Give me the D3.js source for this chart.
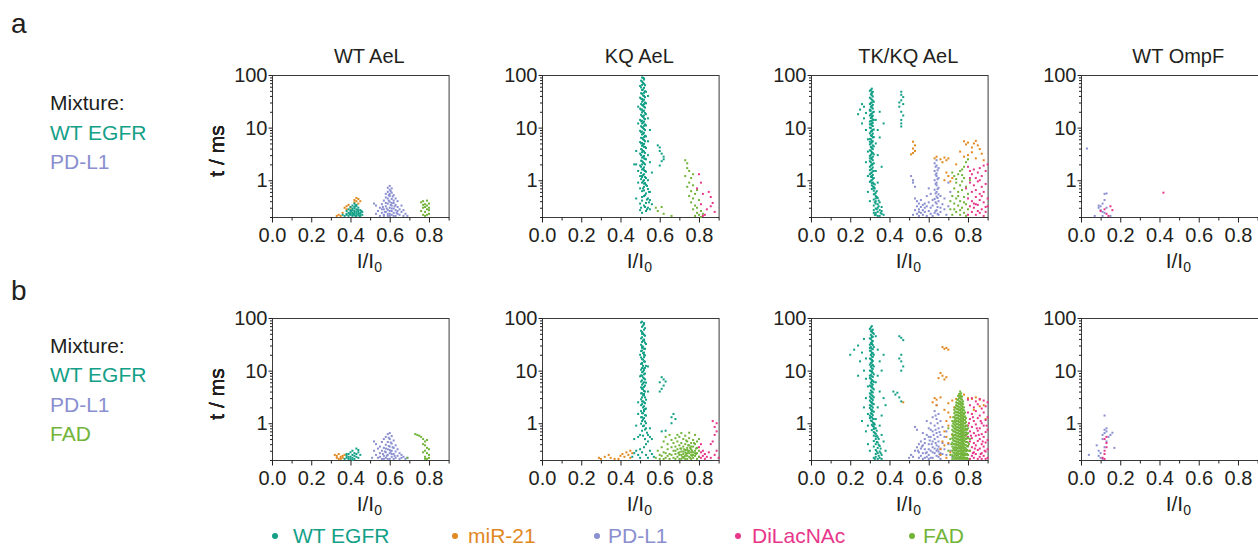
<!DOCTYPE html>
<html>
<head>
<meta charset="utf-8">
<script src="https://cdn.jsdelivr.net/npm/d3@7"></script>
<style>
  body { margin: 0; background: #fff; }
  text { font-family: "Liberation Sans", Arial, sans-serif; fill: #231f20; }
</style>
</head>
<body>
<svg id="fig" width="1258" height="546"></svg>
<script>
// Analytes and their colours
const analytes = ['WT EGFR', 'miR-21', 'PD-L1', 'DiLacNAc', 'FAD'];
const colors = ['#13a087', '#e1891f', '#8a8fd0', '#e8368b', '#72b43a'];

const titles = ['WT AeL', 'KQ AeL', 'TK/KQ AeL', 'WT OmpF'];
const xTicks = [0, 0.2, 0.4, 0.6, 0.8];
const xMinor = [0.1, 0.3, 0.5, 0.7, 0.9];
const yTicks = [1, 10, 100];
const yMinor = [0.2, 0.3, 0.4, 0.5, 0.6, 0.7, 0.8, 0.9, 2, 3, 4, 5, 6, 7, 8, 9, 20, 30, 40, 50, 60, 70, 80, 90];

const mixtureA = ['WT EGFR', 'PD-L1'];
const mixtureB = ['WT EGFR', 'PD-L1', 'FAD'];

// dense clusters written column by column: [I/I0, [t values]]
const cols = c => c.flatMap(([x, ts]) => ts.map(t => [x, t]));

// ---------- row a ----------
const a1Egfr = [[0.37,0.21],[0.38,0.23],[0.38,0.26],[0.39,0.21],[0.39,0.28],[0.40,0.22],[0.40,0.25],[0.40,0.31],[0.41,0.21],[0.41,0.24],[0.41,0.27],[0.41,0.33],[0.42,0.22],[0.42,0.26],[0.42,0.29],[0.42,0.36],[0.43,0.21],[0.43,0.23],[0.43,0.28],[0.43,0.32],[0.44,0.22],[0.44,0.25],[0.44,0.30],[0.45,0.21],[0.45,0.24],[0.45,0.27],[0.46,0.22],[0.46,0.25],[0.39,0.24],[0.40,0.27],[0.41,0.29],[0.42,0.24],[0.43,0.25],[0.44,0.27],[0.38,0.22],[0.42,0.31],[0.43,0.34],[0.40,0.23],[0.41,0.22],[0.44,0.23],[0.45,0.23],[0.36,0.22],[0.395,0.23],[0.405,0.26],[0.415,0.23],[0.425,0.21],[0.435,0.27],[0.445,0.21],[0.455,0.26],[0.425,0.33]];
const a1Mir = [[0.33,0.21],[0.34,0.22],[0.35,0.21],[0.36,0.24],[0.37,0.30],[0.38,0.32],[0.39,0.34],[0.40,0.30],[0.42,0.42],[0.43,0.46],[0.43,0.40],[0.44,0.44],[0.44,0.36],[0.42,0.38],[0.45,0.40],[0.38,0.28]];
const a1Pdl1 = [[0.52,0.36],[0.53,0.33],[0.53,0.23],[0.54,0.26],[0.55,0.21],[0.55,0.30],[0.56,0.24],[0.56,0.35],[0.57,0.22],[0.57,0.28],[0.57,0.41],[0.58,0.25],[0.58,0.32],[0.58,0.47],[0.58,0.55],[0.59,0.21],[0.59,0.27],[0.59,0.36],[0.59,0.60],[0.59,0.72],[0.60,0.23],[0.60,0.30],[0.60,0.39],[0.60,0.50],[0.60,0.66],[0.60,0.78],[0.61,0.22],[0.61,0.26],[0.61,0.33],[0.61,0.44],[0.61,0.58],[0.61,0.70],[0.62,0.24],[0.62,0.29],[0.62,0.37],[0.62,0.52],[0.63,0.21],[0.63,0.27],[0.63,0.34],[0.63,0.45],[0.64,0.23],[0.64,0.31],[0.64,0.40],[0.65,0.22],[0.65,0.28],[0.66,0.25],[0.66,0.33],[0.67,0.21],[0.67,0.27],[0.68,0.23],[0.69,0.21],[0.57,0.21],[0.59,0.23],[0.60,0.26],[0.61,0.29],[0.62,0.21],[0.59,0.45],[0.60,0.55],[0.58,0.37],[0.62,0.41],[0.56,0.28],[0.64,0.26],[0.60,0.21],[0.61,0.37],[0.585,0.29],[0.595,0.41],[0.605,0.34],[0.615,0.49],[0.625,0.32],[0.575,0.25],[0.605,0.62],[0.595,0.52],[0.635,0.24],[0.565,0.31]];
const a1Fad = [[0.76,0.38],[0.77,0.40],[0.77,0.30],[0.78,0.35],[0.78,0.25],[0.78,0.21],[0.79,0.28],[0.79,0.33],[0.79,0.41],[0.80,0.23],[0.80,0.30],[0.80,0.36],[0.77,0.22],[0.76,0.26],[0.78,0.31],[0.79,0.22],[0.80,0.27],[0.77,0.34]];

const a2Egfr = [[0.51,90],[0.52,82],[0.51,75],[0.52,68],[0.50,62],[0.52,57],[0.51,52],[0.53,48],[0.51,44],[0.52,40],[0.50,37],[0.52,34],[0.51,31],[0.53,29],[0.51,27],[0.52,25],[0.50,23],[0.52,21],[0.51,19.5],[0.53,18],[0.51,16.5],[0.52,15],[0.50,14],[0.52,13],[0.51,12],[0.53,11],[0.51,10.2],[0.52,9.4],[0.50,8.7],[0.52,8],[0.51,7.4],[0.53,6.8],[0.51,6.3],[0.52,5.8],[0.50,5.3],[0.52,4.9],[0.51,4.5],[0.53,4.1],[0.51,3.8],[0.52,3.5],[0.50,3.2],[0.52,2.9],[0.51,2.7],[0.53,2.5],[0.51,2.3],[0.52,2.1],[0.50,1.9],[0.52,1.75],[0.51,1.6],[0.53,1.45],[0.52,1.3],[0.51,1.2],[0.53,1.1],[0.52,1.0],[0.51,0.9],[0.53,0.82],[0.52,0.75],[0.54,0.68],[0.51,0.62],[0.53,0.56],[0.52,0.5],[0.54,0.45],[0.51,0.41],[0.53,0.37],[0.52,0.33],[0.54,0.3],[0.50,0.27],
  [0.52,86],[0.51,65],[0.52,46],[0.51,35],[0.52,28],[0.51,22],[0.52,17],[0.51,13.5],[0.52,10.8],[0.51,8.4],[0.52,6.6],[0.51,5.1],[0.52,4.3],[0.51,3.4],[0.52,2.6],[0.51,2.0],[0.52,1.55],[0.51,1.15],[0.52,0.86],[0.52,0.64],[0.51,0.48],
  [0.48,2.0],[0.49,1.5],[0.48,3.6],[0.49,12],[0.54,15],[0.55,9],[0.54,5.5],[0.55,2.2],[0.56,1.4],[0.54,1.0],[0.55,0.6],[0.50,0.7],[0.49,0.9],[0.48,0.45],[0.55,0.42],[0.56,0.35],[0.50,0.36],[0.51,0.24],[0.53,0.26],[0.55,0.28],[0.47,2.0],[0.54,3.0],[0.49,25],[0.54,40],[0.50,1.2],
  [0.59,4.6],[0.60,4.2],[0.60,3.6],[0.61,3.2],[0.62,2.8],[0.62,2.5],[0.61,2.3],[0.60,1.9]];
const a2EgfrCore = [[0.515,88],[0.505,78],[0.515,71],[0.525,64],[0.505,58],[0.515,53],[0.525,49],[0.505,45],[0.515,41],[0.525,38],[0.505,35.5],[0.515,32.5],[0.525,30],[0.505,28],[0.515,26],[0.525,24],[0.505,22],[0.515,20.5],[0.525,19],[0.505,17.5],[0.515,16],[0.525,14.5],[0.505,13.2],[0.515,12.4],[0.525,11.5],[0.505,10.6],[0.515,9.8],[0.525,9],[0.505,8.2],[0.515,7.6],[0.525,7],[0.505,6.4],[0.515,6],[0.525,5.5],[0.505,5],[0.515,4.7],[0.525,4.3],[0.505,3.9],[0.515,3.6],[0.525,3.3],[0.505,3],[0.515,2.8],[0.525,2.55],[0.505,2.35],[0.515,2.2],[0.525,2.0],[0.505,1.8],[0.515,1.65],[0.525,1.5],[0.505,1.38],[0.515,1.25],[0.525,1.15],[0.505,1.05],[0.515,0.95],[0.525,0.88],[0.535,0.78],[0.515,0.7],[0.545,0.6],[0.525,0.52],[0.535,0.43],[0.545,0.38],[0.525,0.31],[0.535,0.28],[0.505,0.3]];
const a2Fad = [[0.58,0.3],[0.59,0.26],[0.61,0.31],[0.62,0.23],[0.66,0.21],[0.73,2.4],[0.74,2.1],[0.74,1.7],[0.75,1.5],[0.73,1.2],[0.75,0.9],[0.76,1.1],[0.74,0.75],[0.76,0.62],[0.77,0.8],[0.75,0.5],[0.77,0.45],[0.78,0.55],[0.76,0.38],[0.78,0.33],[0.77,0.28],[0.79,0.3],[0.79,0.24],[0.80,0.22],[0.81,0.26],[0.78,0.21],[0.80,0.42],[0.82,0.23],[0.79,0.65],[0.77,1.3],[0.81,0.2]];
const a2Dilac = [[0.80,1.3],[0.81,0.9],[0.79,0.7],[0.82,0.55],[0.81,0.35],[0.83,0.22],[0.85,0.6],[0.86,0.48],[0.87,0.37],[0.86,0.32],[0.88,0.25],[0.84,0.28],[0.82,0.21]];

const a3Egfr = [[0.31,55],[0.30,50],[0.31,45],[0.31,41],[0.30,37],[0.31,34],[0.32,31],[0.30,28],[0.31,26],[0.31,24],[0.30,22],[0.32,20],[0.31,18.5],[0.30,17],[0.31,15.5],[0.32,14],[0.30,13],[0.31,12],[0.31,11],[0.30,10],[0.32,9.2],[0.31,8.5],[0.30,7.8],[0.31,7.2],[0.32,6.6],[0.30,6.1],[0.31,5.6],[0.31,5.2],[0.30,4.8],[0.32,4.4],[0.31,4.0],[0.30,3.7],[0.31,3.4],[0.32,3.1],[0.30,2.9],[0.31,2.7],[0.31,2.5],[0.30,2.3],[0.32,2.1],[0.31,1.95],[0.30,1.8],[0.31,1.65],[0.32,1.5],[0.31,1.4],[0.30,1.3],[0.31,1.2],[0.32,1.1],[0.31,1.0],[0.30,0.93],[0.32,0.86],[0.31,0.8],[0.32,0.74],[0.31,0.68],[0.32,0.63],[0.33,0.58],[0.32,0.54],[0.33,0.5],[0.34,0.46],[0.32,0.43],[0.33,0.4],[0.35,0.38],[0.34,0.35],[0.32,0.33],[0.36,0.31],[0.33,0.29],[0.35,0.27],[0.34,0.25],[0.32,0.24],[0.36,0.23],[0.33,0.22],[0.35,0.21],[0.37,0.22],[0.34,0.21],
  [0.31,47],[0.31,30],[0.30,21],[0.31,16.5],[0.31,13.5],[0.30,11.5],[0.31,8.8],[0.31,6.9],[0.30,5.4],[0.31,4.2],[0.31,3.2],[0.30,2.6],[0.31,2.0],[0.30,1.55],[0.31,1.15],[0.31,0.88],[0.32,0.7],[0.33,0.45],[0.33,0.36],[0.34,0.3],[0.32,0.27],[0.33,0.24],[0.36,0.26],
  [0.24,18],[0.25,22],[0.26,28],[0.27,25],[0.27,15],[0.28,19],[0.26,12],[0.28,9],[0.29,6],[0.29,3.5],[0.28,2.2],[0.29,1.2],[0.33,14],[0.34,9],[0.35,20],[0.33,5],[0.34,3],[0.36,1.8],[0.33,1.5],[0.34,0.9],[0.37,12],[0.35,6.5],[0.29,0.6],[0.30,0.4],
  [0.46,48],[0.46,42],[0.47,38],[0.46,33],[0.47,28],[0.45,25],[0.46,20],[0.47,17],[0.46,14],[0.46,12],[0.46,10.5],[0.45,30]];
const a3EgfrCore = [[0.305,52],[0.315,48],[0.305,43],[0.315,39],[0.305,35.5],[0.315,32.5],[0.305,29.5],[0.315,27],[0.305,25],[0.315,23],[0.305,21],[0.315,19.5],[0.305,18],[0.315,16.8],[0.305,15.2],[0.315,14.3],[0.305,13.4],[0.315,12.4],[0.305,11.6],[0.315,10.7],[0.305,9.8],[0.315,9.1],[0.305,8.4],[0.315,7.7],[0.305,7.1],[0.315,6.5],[0.305,6],[0.315,5.5],[0.305,5],[0.315,4.6],[0.305,4.3],[0.315,3.9],[0.305,3.6],[0.315,3.3],[0.305,3.05],[0.315,2.8],[0.305,2.6],[0.315,2.4],[0.305,2.2],[0.315,2.05],[0.305,1.9],[0.315,1.75],[0.305,1.6],[0.315,1.48],[0.305,1.36],[0.315,1.26],[0.305,1.16],[0.315,1.06],[0.305,0.98],[0.315,0.9],[0.325,0.83],[0.315,0.76],[0.325,0.7],[0.335,0.62],[0.325,0.55],[0.335,0.48],[0.345,0.41],[0.325,0.38],[0.345,0.32],[0.335,0.28],[0.355,0.24],[0.325,0.22]];
const a3Mir = [[0.51,3.1],[0.52,3.3],[0.52,4.0],[0.53,4.6],[0.52,5.4],[0.53,3.6],[0.63,2.6],[0.64,2.8],[0.66,2.5],[0.67,2.2],[0.68,2.7],[0.69,2.4],[0.70,2.6],[0.69,1.4],[0.70,1.2],[0.71,0.95],[0.68,1.0],[0.72,1.1],[0.78,5.5],[0.79,4.8],[0.80,5.2],[0.82,4.2],[0.83,5.0],[0.84,5.6],[0.85,4.6],[0.86,3.9],[0.82,3.4],[0.80,3.0],[0.78,2.8],[0.87,3.2],[0.84,2.6],[0.88,2.4],[0.76,3.5],[0.74,2.0]];
const a3Pdl1 = [[0.53,0.45],[0.54,0.40],[0.54,0.32],[0.55,0.36],[0.55,0.28],[0.56,0.42],[0.56,0.31],[0.56,0.24],[0.57,0.34],[0.57,0.27],[0.57,0.22],[0.58,0.30],[0.58,0.25],[0.59,0.21],[0.53,0.27],[0.54,0.23],[0.55,0.21],[0.52,0.22],[0.58,0.36],[0.60,0.26],[0.61,0.23],[0.59,0.32],[0.60,0.38],[0.55,0.25],
  [0.51,1.2],[0.52,1.0],[0.53,0.75],[0.52,0.9],
  [0.64,2.4],[0.63,2.1],[0.64,1.9],[0.65,1.7],[0.63,1.5],[0.64,1.35],[0.64,1.2],[0.65,1.1],[0.63,1.0],[0.64,0.9],[0.64,0.8],[0.65,0.72],[0.63,0.66],[0.64,0.6],[0.65,0.54],[0.64,0.49],[0.63,0.44],[0.65,0.4],[0.64,0.36],[0.62,0.33],[0.66,0.3],[0.64,0.27],[0.63,0.24],[0.65,0.22],[0.62,0.21],[0.66,0.25],[0.61,0.3],[0.62,0.42],[0.66,0.5],[0.61,0.55],[0.67,0.35],[0.68,0.28],[0.69,0.22],[0.70,0.32],[0.71,0.6],[0.70,0.9],[0.68,0.45],[0.60,0.7],[0.59,0.5],
  [0.635,1.8],[0.645,1.55],[0.635,1.28],[0.645,1.05],[0.635,0.85],[0.645,0.68],[0.635,0.56],[0.645,0.46],[0.635,0.38],[0.645,0.31],[0.635,0.26],[0.645,0.23]];
const a3Fad = [[0.72,1.4],[0.73,1.2],[0.74,0.9],[0.75,1.3],[0.76,1.5],[0.77,1.6],[0.78,1.8],[0.79,2.2],[0.80,2.5],[0.78,1.1],[0.76,0.8],[0.73,0.7],[0.75,0.6],[0.77,0.65],[0.79,0.75],[0.72,0.5],[0.74,0.45],[0.76,0.4],[0.78,0.48],[0.80,0.55],[0.73,0.36],[0.75,0.33],[0.77,0.3],[0.79,0.35],[0.71,0.28],[0.74,0.25],[0.76,0.22],[0.78,0.24],[0.72,0.22],[0.80,0.28],[0.81,1.0],[0.74,1.05],[0.77,0.95],[0.75,0.5],[0.71,0.4],[0.78,0.38],[0.73,0.28],[0.79,0.21],[0.76,0.27],[0.77,1.25]];
const a3Dilac = [[0.80,1.8],[0.81,1.5],[0.82,1.3],[0.83,1.6],[0.84,1.1],[0.85,1.4],[0.86,1.7],[0.87,1.2],[0.88,1.9],[0.89,1.5],[0.90,2.0],[0.81,0.9],[0.83,0.8],[0.85,0.95],[0.87,0.75],[0.89,0.85],[0.82,0.6],[0.84,0.65],[0.86,0.55],[0.88,0.6],[0.80,0.45],[0.82,0.4],[0.84,0.48],[0.86,0.42],[0.88,0.38],[0.90,0.45],[0.81,0.32],[0.83,0.3],[0.85,0.34],[0.87,0.28],[0.89,0.31],[0.82,0.25],[0.84,0.22],[0.86,0.24],[0.88,0.21],[0.80,0.22],[0.83,0.36],[0.87,0.5],[0.85,0.26],[0.89,0.25],[0.81,1.1],[0.86,1.0],[0.79,0.7],[0.84,0.35],[0.90,0.32]];

const a4Pdl1 = [[0.03,4.0],[0.09,0.33],[0.09,0.3],[0.10,0.32],[0.10,0.27],[0.11,0.36],[0.11,0.25],[0.12,0.55],[0.13,0.56],[0.12,0.42],[0.12,0.24],[0.13,0.3],[0.07,0.21],[0.11,0.21],[0.15,0.21]];
const a4Dilac = [[0.10,0.26],[0.13,0.23],[0.14,0.21],[0.15,0.32],[0.16,0.27],[0.42,0.58],[0.12,0.28]];

// ---------- row b ----------
const b1Mir = [[0.32,0.25],[0.33,0.24],[0.33,0.22],[0.34,0.26],[0.35,0.23],[0.35,0.21],[0.36,0.24],[0.36,0.22],[0.37,0.25],[0.34,0.21]];
const b1Egfr = [[0.37,0.21],[0.38,0.24],[0.38,0.22],[0.39,0.26],[0.39,0.21],[0.40,0.23],[0.40,0.28],[0.41,0.22],[0.41,0.25],[0.41,0.30],[0.42,0.21],[0.42,0.24],[0.42,0.27],[0.43,0.33],[0.43,0.23],[0.44,0.28],[0.44,0.22],[0.45,0.25],[0.40,0.21],[0.39,0.23],[0.43,0.26],[0.41,0.2],[0.38,0.26],[0.44,0.31]];
const b1Pdl1 = [[0.51,0.22],[0.52,0.30],[0.52,0.45],[0.53,0.25],[0.53,0.40],[0.54,0.22],[0.54,0.33],[0.55,0.27],[0.55,0.36],[0.56,0.21],[0.56,0.30],[0.56,0.44],[0.57,0.24],[0.57,0.34],[0.57,0.50],[0.58,0.22],[0.58,0.28],[0.58,0.39],[0.58,0.55],[0.59,0.25],[0.59,0.32],[0.59,0.44],[0.59,0.62],[0.60,0.21],[0.60,0.27],[0.60,0.36],[0.60,0.50],[0.60,0.65],[0.61,0.23],[0.61,0.30],[0.61,0.41],[0.61,0.57],[0.62,0.26],[0.62,0.34],[0.62,0.47],[0.63,0.22],[0.63,0.29],[0.63,0.38],[0.64,0.24],[0.64,0.32],[0.65,0.21],[0.65,0.27],[0.66,0.25],[0.66,0.22],[0.67,0.23],[0.68,0.21],[0.69,0.22],[0.57,0.21],[0.59,0.21],[0.62,0.21],[0.55,0.23],[0.60,0.31],[0.58,0.33],[0.61,0.26],[0.585,0.24],[0.595,0.37],[0.605,0.29],[0.615,0.35],[0.575,0.29],[0.625,0.24],[0.595,0.53],[0.605,0.43],[0.565,0.26]];
const b1Fad = [[0.73,0.62],[0.74,0.60],[0.75,0.58],[0.76,0.55],[0.77,0.50],[0.78,0.45],[0.79,0.48],[0.78,0.38],[0.79,0.34],[0.78,0.30],[0.79,0.27],[0.80,0.25],[0.78,0.23],[0.79,0.21],[0.77,0.28],[0.80,0.32],[0.77,0.40],[0.78,0.21],[0.80,0.22],[0.69,0.22]];

const b2Egfr = [[0.51,85],[0.52,76],[0.51,68],[0.52,60],[0.51,54],[0.52,48],[0.51,43],[0.52,39],[0.51,35],[0.53,32],[0.51,29],[0.52,26],[0.51,24],[0.52,22],[0.50,20],[0.52,18],[0.51,16.5],[0.52,15],[0.51,13.5],[0.53,12.3],[0.51,11.2],[0.52,10.2],[0.51,9.3],[0.52,8.5],[0.50,7.8],[0.52,7.1],[0.51,6.5],[0.53,5.9],[0.51,5.4],[0.52,4.9],[0.51,4.5],[0.52,4.1],[0.51,3.7],[0.52,3.4],[0.51,3.1],[0.53,2.8],[0.52,2.5],[0.51,2.3],[0.52,2.1],[0.53,1.9],[0.52,1.7],[0.51,1.55],[0.53,1.4],[0.52,1.25],[0.51,1.1],[0.53,1.0],[0.52,0.9],[0.53,0.8],[0.51,0.72],
  [0.52,80],[0.51,50],[0.52,37],[0.51,27],[0.52,20],[0.51,14],[0.52,11],[0.51,8],[0.52,6],[0.51,4.7],[0.52,3.6],[0.51,2.6],[0.52,1.8],[0.51,1.3],
  [0.49,1.5],[0.48,0.9],[0.50,0.6],[0.49,0.55],[0.47,0.5],[0.54,0.6],[0.55,0.55],[0.56,0.5],[0.54,0.45],[0.53,0.4],[0.52,0.35],[0.50,0.32],[0.48,0.3],[0.47,0.27],[0.49,0.25],[0.51,0.28],[0.55,0.3],[0.56,0.26],[0.57,0.23],[0.54,0.22],[0.50,0.22],[0.46,0.23],[0.53,0.25],[0.55,0.8],[0.49,2.5],[0.54,12],[0.54,4],
  [0.61,7.5],[0.62,6.8],[0.60,6],[0.62,5.2],[0.61,4.5],[0.60,4.0],[0.63,6.2],[0.66,1.3],[0.67,1.5],[0.68,1.2],[0.66,1.0],[0.61,0.7],[0.63,0.72]];
const b2EgfrCore = [[0.505,82],[0.515,72],[0.525,64],[0.505,57],[0.515,51],[0.525,46],[0.505,41],[0.515,37.5],[0.525,34],[0.505,31],[0.515,28.5],[0.525,26],[0.505,23.5],[0.515,21.5],[0.525,19.5],[0.505,17.8],[0.515,16.2],[0.525,14.8],[0.505,13.4],[0.515,12.3],[0.525,11.3],[0.505,10.4],[0.515,9.6],[0.525,8.8],[0.505,8.1],[0.515,7.4],[0.525,6.8],[0.505,6.2],[0.515,5.7],[0.525,5.2],[0.505,4.8],[0.515,4.4],[0.525,4],[0.505,3.7],[0.515,3.4],[0.525,3.1],[0.505,2.85],[0.515,2.6],[0.525,2.4],[0.505,2.2],[0.515,2.0],[0.525,1.85],[0.505,1.7],[0.515,1.55],[0.525,1.42],[0.505,1.3],[0.515,1.18],[0.525,1.08],[0.505,0.98],[0.515,0.88],[0.525,0.76],[0.535,0.66],[0.515,0.58],[0.525,0.5]];
const b2Mir = [[0.29,0.22],[0.30,0.21],[0.32,0.23],[0.34,0.25],[0.35,0.22],[0.37,0.21],[0.40,0.24],[0.41,0.26],[0.42,0.23],[0.43,0.28],[0.44,0.25],[0.45,0.3],[0.45,0.22],[0.46,0.27],[0.39,0.21]];
const b2Fad = [[0.58,0.22],[0.59,0.3],[0.60,0.25],[0.61,0.35],[0.62,0.28],[0.62,0.45],[0.63,0.22],[0.63,0.55],[0.64,0.32],[0.64,0.4],[0.65,0.26],[0.65,0.6],[0.66,0.35],[0.66,0.48],[0.67,0.22],[0.67,0.3],[0.67,0.42],[0.68,0.26],[0.68,0.52],[0.68,0.36],[0.69,0.23],[0.69,0.32],[0.69,0.45],[0.69,0.6],[0.70,0.21],[0.70,0.28],[0.70,0.38],[0.70,0.55],[0.71,0.25],[0.71,0.33],[0.71,0.42],[0.71,0.65],[0.72,0.22],[0.72,0.29],[0.72,0.36],[0.72,0.5],[0.73,0.24],[0.73,0.31],[0.73,0.4],[0.73,0.58],[0.74,0.21],[0.74,0.27],[0.74,0.34],[0.74,0.45],[0.75,0.23],[0.75,0.3],[0.75,0.38],[0.75,0.52],[0.75,0.66],[0.76,0.25],[0.76,0.32],[0.76,0.42],[0.77,0.22],[0.77,0.28],[0.77,0.36],[0.77,0.48],[0.78,0.24],[0.78,0.3],[0.78,0.4],[0.78,0.6],[0.79,0.21],[0.79,0.27],[0.79,0.34],[0.79,0.45],[0.80,0.23],[0.80,0.3],[0.80,0.5],[0.76,0.21],[0.73,0.21],[0.71,0.21],[0.68,0.21],[0.65,0.21],[0.62,0.21],[0.74,0.24],[0.76,0.28],[0.72,0.26],[0.70,0.25],[0.78,0.27],[0.75,0.27],[0.77,0.25],[0.73,0.28],[0.66,0.25],[0.64,0.24],[0.60,0.21],[0.61,0.24],[0.68,0.3],[0.71,0.29],[0.74,0.31],[0.76,0.36],[0.63,0.27],
  [0.715,0.23],[0.725,0.32],[0.735,0.26],[0.745,0.38],[0.755,0.22],[0.765,0.3],[0.775,0.42],[0.785,0.26],[0.705,0.33],[0.695,0.27],[0.745,0.29],[0.755,0.34],[0.765,0.24],[0.735,0.47],[0.725,0.23],[0.785,0.33]];
const b2Dilac = [[0.80,0.35],[0.81,0.28],[0.81,0.22],[0.82,0.3],[0.82,0.24],[0.83,0.26],[0.83,0.21],[0.84,0.23],[0.85,0.28],[0.86,0.4],[0.87,0.45],[0.88,0.6],[0.89,0.7],[0.88,0.85],[0.89,1.0],[0.87,1.1],[0.89,0.3],[0.88,0.25],[0.90,0.22],[0.86,0.22],[0.80,0.23],[0.81,0.4]];

const b3Egfr = [[0.31,70],[0.30,62],[0.31,55],[0.32,50],[0.31,45],[0.30,41],[0.31,37],[0.31,34],[0.30,31],[0.32,28],[0.31,26],[0.30,24],[0.31,22],[0.32,20],[0.31,18.5],[0.30,17],[0.31,15.5],[0.31,14.2],[0.30,13],[0.32,12],[0.31,11],[0.30,10],[0.31,9.2],[0.32,8.5],[0.31,7.8],[0.30,7.2],[0.31,6.6],[0.32,6.1],[0.31,5.6],[0.30,5.2],[0.31,4.8],[0.32,4.4],[0.31,4],[0.30,3.7],[0.31,3.4],[0.32,3.1],[0.31,2.9],[0.30,2.7],[0.31,2.5],[0.32,2.3],[0.31,2.1],[0.30,1.95],[0.31,1.8],[0.32,1.65],[0.31,1.5],[0.30,1.4],[0.31,1.3],[0.32,1.2],[0.31,1.1],[0.32,1.0],[0.31,0.93],[0.32,0.86],[0.33,0.8],[0.31,0.74],[0.32,0.68],[0.33,0.63],[0.32,0.58],[0.34,0.54],[0.33,0.5],[0.32,0.46],[0.34,0.43],[0.33,0.4],[0.35,0.37],[0.34,0.34],[0.33,0.31],[0.35,0.29],[0.34,0.27],[0.36,0.25],[0.33,0.23],[0.35,0.22],[0.34,0.21],[0.36,0.21],
  [0.31,58],[0.31,43],[0.31,32],[0.30,27],[0.31,21],[0.31,16],[0.31,12.5],[0.31,9.8],[0.30,8],[0.31,6.3],[0.31,5],[0.31,3.9],[0.30,3.2],[0.31,2.4],[0.30,2.2],[0.31,1.7],[0.30,1.25],[0.32,0.95],[0.32,0.78],[0.33,0.56],[0.32,0.36],[0.33,0.26],
  [0.20,20],[0.22,25],[0.24,30],[0.25,15],[0.26,22],[0.27,40],[0.27,10],[0.28,17],[0.28,7],[0.29,5],[0.28,3],[0.27,2],[0.29,1.5],[0.26,1.1],[0.29,0.9],[0.28,0.7],[0.33,45],[0.34,25],[0.35,15],[0.34,8],[0.36,10],[0.33,6],[0.35,4],[0.37,3],[0.34,2],[0.36,1.4],[0.33,1.2],[0.38,2.2],[0.35,0.9],[0.36,0.6],[0.37,0.45],[0.38,0.3],[0.29,0.4],[0.30,0.3],[0.24,8],[0.37,20],[0.32,0.22],
  [0.45,45],[0.46,42],[0.47,38],[0.46,20],[0.45,17],[0.46,15],[0.47,12],[0.46,10],[0.42,4],[0.43,3.5],[0.45,3.1],[0.44,3.8],[0.46,2.6]];
const b3EgfrCore = [[0.305,66],[0.315,60],[0.305,56],[0.315,52],[0.305,48],[0.315,44],[0.305,40],[0.315,36.5],[0.305,33.5],[0.315,30.5],[0.305,28],[0.315,25.5],[0.305,23.5],[0.315,21.5],[0.305,19.8],[0.315,18.2],[0.305,16.6],[0.315,15.2],[0.305,14],[0.315,12.8],[0.305,11.8],[0.315,10.8],[0.305,9.9],[0.315,9.1],[0.305,8.3],[0.315,7.6],[0.305,7],[0.315,6.4],[0.305,5.9],[0.315,5.4],[0.305,5],[0.315,4.6],[0.305,4.2],[0.315,3.85],[0.305,3.55],[0.315,3.25],[0.305,3],[0.315,2.75],[0.305,2.55],[0.315,2.35],[0.305,2.15],[0.315,1.98],[0.305,1.82],[0.315,1.68],[0.305,1.55],[0.315,1.42],[0.305,1.32],[0.315,1.22],[0.305,1.12],[0.315,1.03],[0.325,0.95],[0.315,0.88],[0.325,0.8],[0.335,0.72],[0.325,0.65],[0.335,0.58],[0.345,0.5],[0.335,0.44],[0.345,0.39],[0.355,0.33],[0.335,0.29],[0.345,0.24],[0.355,0.27],[0.325,0.21]];
const b3Mir = [[0.67,28],[0.68,26],[0.69,27],[0.70,25],[0.66,9],[0.67,8],[0.65,7.2],[0.68,6.8],[0.69,7.5],[0.63,3.0],[0.64,2.8],[0.66,3.1],[0.64,2.2],[0.62,2.5],[0.47,2.5],[0.70,2.4],[0.72,2.7],[0.74,2.9],[0.76,3.2],[0.78,3.5],[0.80,3.0],[0.82,2.9],[0.84,3.1],[0.86,2.8],[0.70,1.6],[0.71,1.3],[0.69,1.1],[0.70,0.9],[0.68,0.7],[0.69,0.55],[0.67,0.45],[0.68,0.38],[0.66,0.32],[0.71,0.28],[0.72,0.6],[0.83,1.8],[0.86,2.1],[0.88,2.2],[0.89,1.2],[0.68,1.8],[0.73,2.0],[0.66,0.25],[0.70,0.42],[0.69,0.22]];
const b3Pdl1 = [[0.50,0.22],[0.51,0.25],[0.52,0.23],[0.53,0.3],[0.54,0.35],[0.55,0.4],[0.55,0.28],[0.56,0.45],[0.56,0.24],[0.57,0.38],[0.57,0.27],[0.58,0.5],[0.58,0.32],[0.58,0.22],[0.59,0.6],[0.59,0.28],[0.60,0.8],[0.60,0.4],[0.60,0.25],[0.61,1.0],[0.61,0.55],[0.61,0.3],[0.62,1.3],[0.62,0.7],[0.62,0.35],[0.62,0.22],[0.63,1.7],[0.63,0.9],[0.63,0.5],[0.63,0.27],[0.64,2.2],[0.64,1.2],[0.64,0.65],[0.64,0.38],[0.64,0.24],[0.65,1.5],[0.65,0.8],[0.65,0.45],[0.65,0.29],[0.66,1.1],[0.66,0.6],[0.66,0.33],[0.66,0.21],[0.67,0.85],[0.67,0.42],[0.67,0.26],[0.68,0.55],[0.68,0.32],[0.69,0.7],[0.69,0.25],[0.70,0.4],[0.71,0.3],[0.72,0.23],[0.53,0.85],[0.54,0.75],[0.57,0.65],[0.59,1.1],[0.61,0.75],[0.55,0.22],[0.57,0.21],[0.60,0.21],[0.62,0.45],[0.63,0.33],[0.65,0.23],[0.58,0.42],[0.56,0.33],[0.60,0.32],[0.61,0.22],[0.59,0.23],[0.64,0.3],[0.66,0.27],[0.62,0.28],[0.60,0.55],[0.65,0.36],
  [0.635,1.4],[0.645,1.0],[0.635,0.75],[0.645,0.55],[0.635,0.42],[0.645,0.32],[0.625,0.6],[0.655,0.68],[0.615,0.4],[0.655,0.26],[0.545,0.3],[0.565,0.36],[0.585,0.27],[0.605,0.47]];
const b3FadCols = [
  [0.72, [0.21,0.25,0.3,0.36,0.43,0.52,0.62,0.75,0.9,1.1]],
  [0.725, [0.23,0.28,0.33,0.4,0.48,0.57,0.7,0.85,1.0,1.3]],
  [0.73, [0.21,0.24,0.27,0.31,0.35,0.4,0.46,0.53,0.6,0.7,0.8,0.95,1.1,1.3,1.55,1.8]],
  [0.735, [0.22,0.26,0.3,0.34,0.39,0.45,0.52,0.6,0.68,0.78,0.9,1.05,1.2,1.4,1.65,2.0]],
  [0.74, [0.21,0.24,0.27,0.31,0.35,0.4,0.45,0.51,0.58,0.66,0.75,0.85,0.97,1.1,1.25,1.45,1.65,1.9,2.2,2.5]],
  [0.745, [0.22,0.25,0.29,0.33,0.38,0.43,0.49,0.56,0.64,0.73,0.83,0.95,1.08,1.23,1.4,1.6,1.85,2.1,2.4,2.8]],
  [0.75, [0.21,0.24,0.27,0.3,0.34,0.39,0.44,0.5,0.57,0.65,0.74,0.84,0.96,1.1,1.25,1.42,1.62,1.85,2.1,2.4,2.8,3.3]],
  [0.755, [0.22,0.26,0.29,0.33,0.37,0.42,0.48,0.55,0.62,0.7,0.8,0.91,1.04,1.18,1.35,1.54,1.75,2.0,2.3,2.6,3.0,3.6]],
  [0.76, [0.21,0.23,0.26,0.3,0.34,0.38,0.43,0.49,0.56,0.63,0.72,0.82,0.93,1.06,1.2,1.37,1.56,1.78,2.0,2.3,2.6,3.0,3.4,4.0]],
  [0.765, [0.22,0.25,0.28,0.32,0.36,0.41,0.47,0.53,0.6,0.68,0.77,0.88,1.0,1.14,1.3,1.48,1.68,1.9,2.2,2.5,2.9,3.3,3.7]],
  [0.77, [0.21,0.24,0.27,0.3,0.34,0.39,0.44,0.5,0.57,0.65,0.74,0.84,0.96,1.1,1.25,1.42,1.62,1.85,2.1,2.4,2.8,3.2]],
  [0.775, [0.22,0.25,0.29,0.33,0.37,0.42,0.48,0.55,0.62,0.7,0.8,0.92,1.05,1.2,1.36,1.55,1.78,2.0,2.3,2.6]],
  [0.78, [0.21,0.24,0.27,0.31,0.35,0.4,0.46,0.52,0.59,0.67,0.76,0.87,1.0,1.15,1.3,1.5,1.75,2.0]],
  [0.785, [0.22,0.26,0.3,0.34,0.39,0.45,0.51,0.58,0.66,0.75,0.86,1.0,1.15,1.35,1.6]],
  [0.79, [0.21,0.25,0.29,0.33,0.38,0.44,0.5,0.58,0.67,0.78,0.9,1.05,1.25]],
  [0.795, [0.22,0.26,0.31,0.37,0.44,0.52,0.62,0.75,0.9]],
  [0.80, [0.21,0.25,0.3,0.36,0.43,0.52,0.65,0.8]]
];
const b3FadExtra = [[0.70,0.3],[0.71,0.5],[0.71,0.25],[0.81,0.3],[0.81,0.5],[0.70,0.8],[0.715,0.4],[0.805,0.4]];
const b3Dilac = [[0.80,2.8],[0.82,3.0],[0.84,2.6],[0.86,2.9],[0.88,2.7],[0.90,2.5],[0.81,2.2],[0.83,2.0],[0.85,2.3],[0.87,1.9],[0.89,2.1],[0.80,1.6],[0.82,1.5],[0.84,1.7],[0.86,1.4],[0.88,1.6],[0.90,1.3],[0.81,1.2],[0.83,1.1],[0.85,1.25],[0.87,1.0],[0.89,1.15],[0.80,0.9],[0.82,0.85],[0.84,0.95],[0.86,0.8],[0.88,0.9],[0.90,0.75],[0.81,0.7],[0.83,0.65],[0.85,0.72],[0.87,0.62],[0.89,0.68],[0.80,0.55],[0.82,0.52],[0.84,0.58],[0.86,0.5],[0.88,0.55],[0.90,0.48],[0.81,0.45],[0.83,0.42],[0.85,0.46],[0.87,0.4],[0.89,0.43],[0.80,0.37],[0.82,0.35],[0.84,0.38],[0.86,0.33],[0.88,0.36],[0.90,0.32],[0.81,0.3],[0.83,0.28],[0.85,0.31],[0.87,0.27],[0.89,0.29],[0.80,0.25],[0.82,0.24],[0.84,0.26],[0.86,0.23],[0.88,0.24],[0.90,0.22],[0.81,0.21],[0.83,0.22],[0.85,0.21],[0.87,0.21],[0.89,0.21],[0.79,0.3],[0.79,0.6],[0.78,0.25],[0.815,0.58],[0.835,0.33],[0.855,0.6],[0.875,0.45],[0.895,0.9],[0.825,1.3],[0.865,1.1],[0.845,0.8],[0.805,1.0],[0.885,0.3],[0.825,0.27],[0.865,0.26]];

const b4Pdl1 = [[0.04,0.25],[0.08,0.38],[0.09,0.3],[0.10,0.27],[0.10,0.22],[0.11,0.6],[0.11,0.5],[0.12,0.75],[0.12,0.65],[0.12,1.4],[0.13,0.8],[0.13,0.7],[0.14,0.55],[0.15,0.6],[0.16,0.66],[0.17,0.34],[0.11,0.21],[0.13,0.45],[0.12,0.35],[0.09,0.24]];
const b4Dilac = [[0.11,0.22],[0.12,0.26],[0.12,0.3],[0.13,0.35],[0.13,0.42],[0.12,0.5],[0.13,0.55],[0.12,0.21]];

// series drawn per panel, in drawing order (later on top)
const panels = [
  [['miR-21', a1Mir], ['WT EGFR', a1Egfr], ['PD-L1', a1Pdl1], ['FAD', a1Fad]],
  [['FAD', a2Fad], ['DiLacNAc', a2Dilac], ['WT EGFR', a2Egfr.concat(a2EgfrCore)]],
  [['PD-L1', a3Pdl1], ['FAD', a3Fad], ['DiLacNAc', a3Dilac], ['miR-21', a3Mir], ['WT EGFR', a3Egfr.concat(a3EgfrCore)]],
  [['PD-L1', a4Pdl1], ['DiLacNAc', a4Dilac]],
  [['miR-21', b1Mir], ['WT EGFR', b1Egfr], ['PD-L1', b1Pdl1], ['FAD', b1Fad]],
  [['miR-21', b2Mir], ['DiLacNAc', b2Dilac], ['FAD', b2Fad], ['WT EGFR', b2Egfr.concat(b2EgfrCore)]],
  [['PD-L1', b3Pdl1], ['miR-21', b3Mir], ['DiLacNAc', b3Dilac], ['FAD', cols(b3FadCols).concat(b3FadExtra)], ['WT EGFR', b3Egfr.concat(b3EgfrCore)]],
  [['PD-L1', b4Pdl1], ['DiLacNAc', b4Dilac]]
];

const color = d3.scaleOrdinal().domain(analytes).range(colors);

const svg = d3.select('#fig');

const colLeft = [272, 542, 811, 1081];
const rowTop = [75, 318];
const plotW = 176.6;
const plotH = 142;

panels.forEach((series, i) => {
  const row = Math.floor(i / 4);
  const col = i % 4;
  const left = colLeft[col];
  const top = rowTop[row];

  const x = d3.scaleLinear().domain([0, 0.9]).range([left, left + plotW]);
  const y = d3.scaleLog().domain([0.2, 100]).range([top + plotH, top]);

  const g = svg.append('g');

  // frame (right side of last column falls off the page)
  const frameW = col === 3 ? 200 : plotW;
  g.append('rect')
    .attr('x', left + 0.5)
    .attr('y', top + 0.5)
    .attr('width', frameW)
    .attr('height', plotH)
    .attr('fill', 'none')
    .attr('stroke', '#3a3a3a')
    .attr('stroke-width', 1);

  // points
  series.forEach(([name, pts]) => {
    g.append('g')
      .attr('fill', color(name))
      .selectAll('rect')
      .data(pts)
      .join('rect')
      .attr('x', d => x(d[0]) - 1)
      .attr('y', d => y(d[1]) - 1)
      .attr('width', 2)
      .attr('height', 2);
  });

  // x axis
  const xAxisG = g.append('g').attr('transform', `translate(0,${top + plotH + 0.5})`);
  xAxisG.call(d3.axisBottom(x).tickValues(xTicks).tickSize(5).tickPadding(5).tickFormat(d3.format('.1f')));
  xAxisG.append('g').call(d3.axisBottom(x).tickValues(xMinor).tickSize(3).tickFormat(''));

  // y axis
  const yAxisG = g.append('g').attr('transform', `translate(${left + 0.5},0)`);
  yAxisG.call(d3.axisLeft(y).tickValues(yTicks).tickSize(4).tickPadding(1).tickFormat(d3.format('d')));
  yAxisG.append('g').call(d3.axisLeft(y).tickValues(yMinor).tickSize(2.5).tickFormat(''));

  svg.selectAll('.domain').remove();
  g.selectAll('.tick line').attr('stroke', '#231f20');
  g.selectAll('.tick text').attr('font-size', 20).attr('fill', '#231f20')
    .style('font-family', '"Liberation Sans", Arial, sans-serif');

  // axis titles
  const xt = g.append('text')
    .attr('x', left + plotW / 2 + 9)
    .attr('y', top + plotH + 51)
    .attr('text-anchor', 'middle')
    .attr('font-size', 21)
    .text('I/I');
  xt.append('tspan').attr('font-size', 14).attr('dy', 4).text('0');

  g.append('text')
    .attr('transform', `translate(224,${top + plotH / 2 + 5}) rotate(-90)`)
    .attr('text-anchor', 'middle')
    .attr('font-size', 21)
    .text('t / ms');

  if (row === 0) {
    g.append('text')
      .attr('x', left + plotW / 2 + 9)
      .attr('y', 63)
      .attr('text-anchor', 'middle')
      .attr('font-size', 20)
      .text(titles[col]);
  }
});

// panel letters and mixture lists
[['a', 33, mixtureA, 110], ['b', 300, mixtureB, 352.5]].forEach(([letter, ly, mix, my]) => {
  svg.append('text').attr('x', 11).attr('y', ly).attr('font-size', 28).text(letter);
  svg.append('text').attr('x', 50).attr('y', my).attr('font-size', 21).text('Mixture:');
  mix.forEach((m, k) => {
    svg.append('text')
      .attr('x', 50)
      .attr('y', my + 29.5 * (k + 1))
      .attr('font-size', 21)
      .style('fill', color(m))
      .text(m);
  });
});

// bottom legend
const legDot = [275, 455, 597, 738, 912];
const legText = [293, 468, 608, 752, 923];
const legend = svg.selectAll('.legend')
  .data(analytes)
  .join('g')
  .attr('class', 'legend');
legend.append('circle')
  .attr('cx', (d, i) => legDot[i])
  .attr('cy', 536)
  .attr('r', 3)
  .attr('fill', d => color(d));
legend.append('text')
  .attr('x', (d, i) => legText[i])
  .attr('y', 543)
  .attr('font-size', 21)
  .style('fill', d => color(d))
  .text(d => d);
</script>
</body>
</html>
